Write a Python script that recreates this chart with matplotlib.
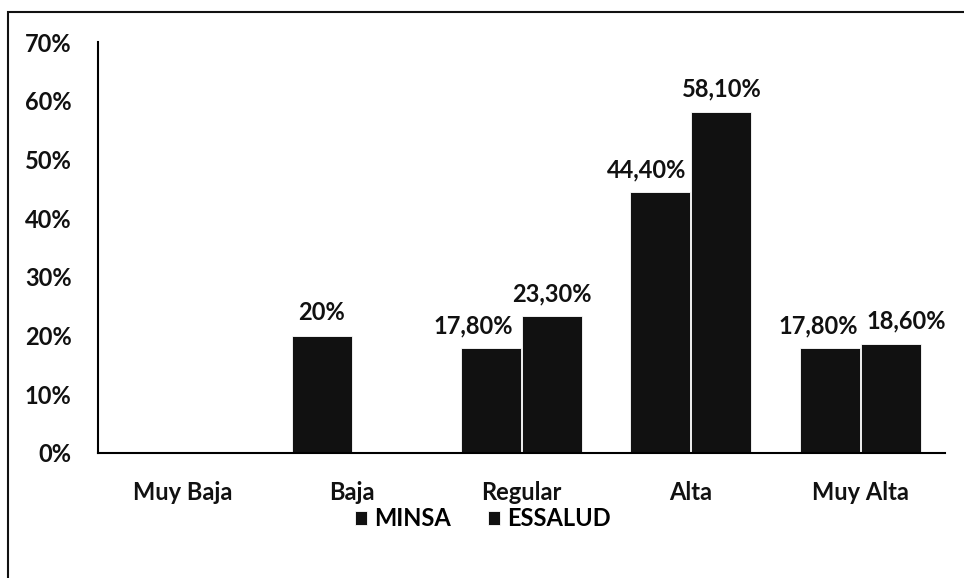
import numpy as np
import matplotlib
matplotlib.use("Agg")
import matplotlib.pyplot as plt
from matplotlib.patches import Rectangle

categories = ["Muy Baja", "Baja", "Regular", "Alta", "Muy Alta"]
minsa = [0.0, 20.0, 17.8, 44.4, 17.8]
essalud = [0.0, 0.0, 23.3, 58.1, 18.6]
minsa_labels = ["", "20%", "17,80%", "44,40%", "17,80%"]
essalud_labels = ["", "", "23,30%", "58,10%", "18,60%"]
y_ticks = [0, 10, 20, 30, 40, 50, 60, 70]

# horizontal nudges (points) for the data labels, as placed in the original
minsa_nudge = [0, 0, -13, -10, -8]
essalud_nudge = [0, 0, 0, 0, 11]

plt.rcParams["font.family"] = ["Lato", "DejaVu Sans"]
plt.rcParams["font.weight"] = "bold"

fig = plt.figure(figsize=(9.64, 5.78), dpi=100)
ax = fig.add_axes([98 / 964, 1 - 453 / 578, 847 / 964, 411 / 578])

x = np.arange(len(categories))
w = 0.354
b1 = ax.bar(x - 0.18, minsa, w, color="#111111", edgecolor="white", linewidth=0.6, label="MINSA")
b2 = ax.bar(x + 0.18, essalud, w, color="#111111", edgecolor="white", linewidth=0.6, label="ESSALUD")

for bars, labels, nudges in ((b1, minsa_labels, minsa_nudge), (b2, essalud_labels, essalud_nudge)):
    for rect, lab, dx in zip(bars, labels, nudges):
        if lab:
            ax.annotate(lab, (rect.get_x() + rect.get_width() / 2, rect.get_height()),
                        xytext=(dx, 8), textcoords="offset points",
                        ha="center", va="bottom", fontsize=17, color="#111111")

ax.set_xlim(-0.5, 4.5)
ax.set_ylim(0, 70)
ax.set_yticks(y_ticks)
ax.set_yticklabels([f"{v}%" for v in y_ticks], fontsize=17)
ax.set_xticks(x)
ax.set_xticklabels(categories, fontsize=17)
ax.tick_params(axis="y", length=0, pad=19, colors="#111111")
ax.tick_params(axis="x", length=0, pad=20, colors="#111111")
for side in ("top", "right"):
    ax.spines[side].set_visible(False)
ax.spines["left"].set_linewidth(1.5)
ax.spines["bottom"].set_linewidth(1.5)

ax.legend(loc="center", bbox_to_anchor=(483 / 964, 1 - 519 / 578), bbox_transform=fig.transFigure,
          ncol=2, frameon=False, fontsize=17, handlelength=0.5, handleheight=0.5,
          handletextpad=0.3, columnspacing=1.6)

fig.patches.append(Rectangle((8 / 964, -0.1), 1.2, 1.1 - 12 / 578, transform=fig.transFigure,
                             fill=False, edgecolor="#111111", linewidth=1.5))

fig.savefig("out.png", dpi=100)
